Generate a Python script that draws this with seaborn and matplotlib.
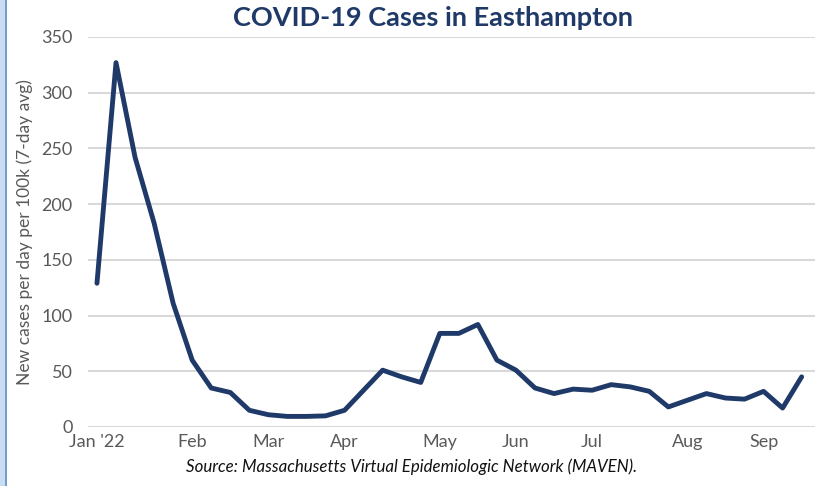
import numpy as np
import pandas as pd
import matplotlib
matplotlib.use("Agg")
import matplotlib.pyplot as plt
from matplotlib.patches import Rectangle
import seaborn as sns

# Weekly 7-day average values (Jan '22 - mid Sep)
week = list(range(38))
cases = [129, 327, 242, 183, 111, 60, 35, 31, 15, 11, 9.5, 9.5, 10, 15, 33, 51, 45, 40,
         84, 84, 92, 60, 51, 35, 30, 34, 33, 38, 36, 32, 18, 24, 30, 26, 25, 32, 17, 45]

tick_pos = [0, 5, 9, 13, 18, 22, 26, 31, 35]
tick_labels = ["Jan '22", "Feb", "Mar", "Apr", "May", "Jun", "Jul", "Aug", "Sep"]
y_ticks = [0, 50, 100, 150, 200, 250, 300, 350]

df = pd.DataFrame({"week": week, "cases": cases})

sns.set_theme(style="white")
plt.rcParams['font.family'] = ['Lato', 'DejaVu Sans']

navy = "#1f3a68"
grey_txt = "#595959"

fig = plt.figure(figsize=(8.18, 4.86), dpi=100)
ax = fig.add_axes([0.1076, 0.1214, 0.8887, 0.8025])

ax.set_yticks(y_ticks)
ax.yaxis.grid(True, color="#d9d9d9", linewidth=1.5)
ax.set_axisbelow(True)

sns.lineplot(data=df, x="week", y="cases", ax=ax, color=navy, linewidth=3.5,
             solid_joinstyle="round", solid_capstyle="round")

ax.set_xlim(-0.47, 37.7)
ax.set_ylim(0, 350)
ax.set_xticks(tick_pos)
ax.set_xticklabels(tick_labels)
ax.tick_params(axis="both", length=0, labelsize=13, labelcolor=grey_txt)
ax.tick_params(axis="y", pad=11)
ax.tick_params(axis="x", pad=5)
ax.set_xlabel("")
ax.set_ylabel("New cases per day per 100k (7-day avg)", fontsize=12.5, color=grey_txt, labelpad=6)
for s in ax.spines.values():
    s.set_visible(False)

fig.text(0.529, 0.962, "COVID-19 Cases in Easthampton", ha="center", va="center",
         fontsize=19.5, fontweight="bold", color=navy)
fig.text(0.503, 0.039, "Source: Massachusetts Virtual Epidemiologic Network (MAVEN).",
         ha="center", va="center", fontsize=12.2, style="italic", color="#111111")

# left border strip
fig.patches.append(Rectangle((0, 0), 0.0065, 1, transform=fig.transFigure,
                             facecolor="#c9ddf2", edgecolor="none"))
fig.patches.append(Rectangle((0.0065, 0), 0.0022, 1, transform=fig.transFigure,
                             facecolor="#6f9fd0", edgecolor="none"))

fig.savefig("out.png", dpi=100)
